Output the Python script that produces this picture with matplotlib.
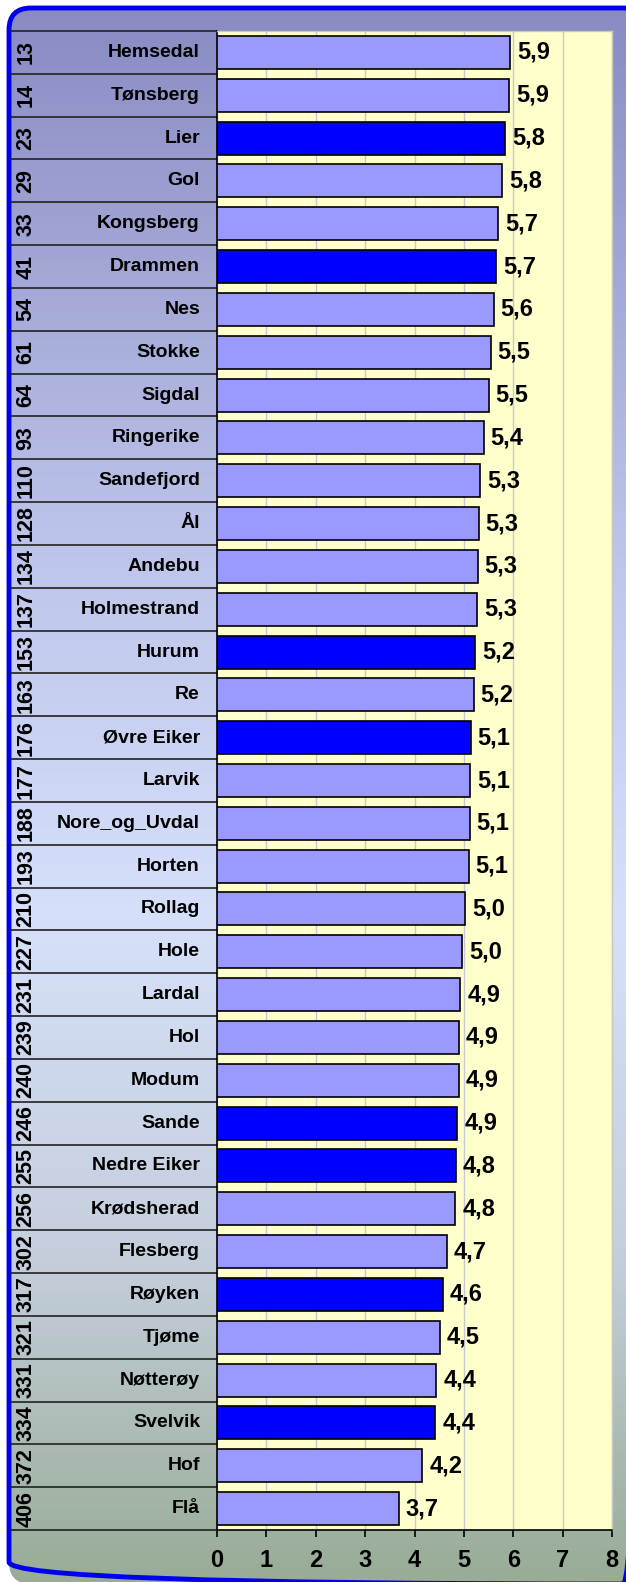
import numpy as np
import matplotlib.pyplot as plt
from matplotlib.patches import FancyBboxPatch
from matplotlib.colors import LinearSegmentedColormap

plt.rcParams['font.family'] = ['Liberation Sans', 'DejaVu Sans']

# data
ranks = [13, 14, 23, 29, 33, 41, 54, 61, 64, 93, 110, 128, 134, 137, 153, 163, 176,
         177, 188, 193, 210, 227, 231, 239, 240, 246, 255, 256, 302, 317, 321, 331,
         334, 372, 406]
names = ['Hemsedal', 'Tønsberg', 'Lier', 'Gol', 'Kongsberg', 'Drammen', 'Nes', 'Stokke',
         'Sigdal', 'Ringerike', 'Sandefjord', 'Ål', 'Andebu', 'Holmestrand', 'Hurum', 'Re',
         'Øvre Eiker', 'Larvik', 'Nore_og_Uvdal', 'Horten', 'Rollag', 'Hole', 'Lardal',
         'Hol', 'Modum', 'Sande', 'Nedre Eiker', 'Krødsherad', 'Flesberg', 'Røyken',
         'Tjøme', 'Nøtterøy', 'Svelvik', 'Hof', 'Flå']
values = [5.94, 5.92, 5.84, 5.78, 5.70, 5.66, 5.60, 5.54, 5.50, 5.40, 5.33, 5.30, 5.28,
          5.27, 5.23, 5.20, 5.14, 5.13, 5.12, 5.10, 5.03, 4.97, 4.93, 4.90, 4.90, 4.87,
          4.84, 4.83, 4.66, 4.57, 4.52, 4.44, 4.42, 4.16, 3.68]
highlight = ['Lier', 'Drammen', 'Hurum', 'Øvre Eiker', 'Sande', 'Nedre Eiker', 'Røyken', 'Svelvik']

W, H = 626, 1582
fig = plt.figure(figsize=(W / 100, H / 100), dpi=100)
fig.patch.set_facecolor('white')

# background panel with gradient
bg = fig.add_axes([0, 0, 1, 1])
bg.set_xlim(0, W)
bg.set_ylim(H, 0)
bg.axis('off')
cmap = LinearSegmentedColormap.from_list('bg', [
    (0.0, '#888bc2'), (0.35, '#bec5eb'), (0.58, '#d6e0fa'),
    (0.8, '#c4cedb'), (1.0, '#98ac96')])
grad = np.linspace(0, 1, 512).reshape(-1, 1)
im = bg.imshow(grad, cmap=cmap, aspect='auto', extent=[0, W, H, 0])
panel = FancyBboxPatch((9, 8), W + 10, H - 6, boxstyle='round,pad=0,rounding_size=22',
                       facecolor='none', edgecolor='#0000ee', linewidth=3.5)
bg.add_patch(panel)
im.set_clip_path(panel)

# main axes
x0, x1, y0, y1 = 217, 612, 31, 1530
ax = fig.add_axes([x0 / W, 1 - y1 / H, (x1 - x0) / W, (y1 - y0) / H])
ax.set_facecolor('#ffffcc')
n = len(names)
y = np.arange(n)
colors = ['#0000ff' if nm in highlight else '#9999ff' for nm in names]
ax.barh(y, values, height=0.77, color=colors, edgecolor='black', linewidth=1.2, zorder=3)
ax.set_xlim(0, 8)
ax.set_ylim(n - 0.5, -0.5)
ax.set_xticks(range(9))
ax.set_xticklabels([str(i) for i in range(9)], fontsize=17, fontweight='bold')
ax.tick_params(axis='x', direction='out', length=5, width=1.2, pad=9)
ax.set_yticks([])
ax.grid(axis='x', color='#c8c8d0', linewidth=1, zorder=0)
for s in ['top', 'right']:
    ax.spines[s].set_color('#c8c8c0')
    ax.spines[s].set_linewidth(1)
ax.spines['left'].set_linewidth(1.2)
ax.spines['bottom'].set_linewidth(1.2)

for yi, v in zip(y, values):
    ax.text(v + 0.14, yi, f'{v:.1f}'.replace('.', ','), va='center', ha='left',
            fontsize=17, fontweight='bold', zorder=4)

# label column
tr = ax.get_yaxis_transform()
fx = lambda px: (px - x0) / (x1 - x0)
for yi, (r, nm) in enumerate(zip(ranks, names)):
    ax.text(fx(200), yi, nm, transform=tr, ha='right', va='center',
            fontsize=14, fontweight='bold')
    ax.text(fx(26), yi, str(r), transform=tr, ha='center', va='center',
            rotation=90, fontsize=15.5, fontweight='bold')
ax.hlines(np.arange(n + 1) - 0.5, fx(10), 0, transform=tr, colors='#222222',
          linewidth=1.2, clip_on=False)

fig.savefig('out.png', dpi=100)
